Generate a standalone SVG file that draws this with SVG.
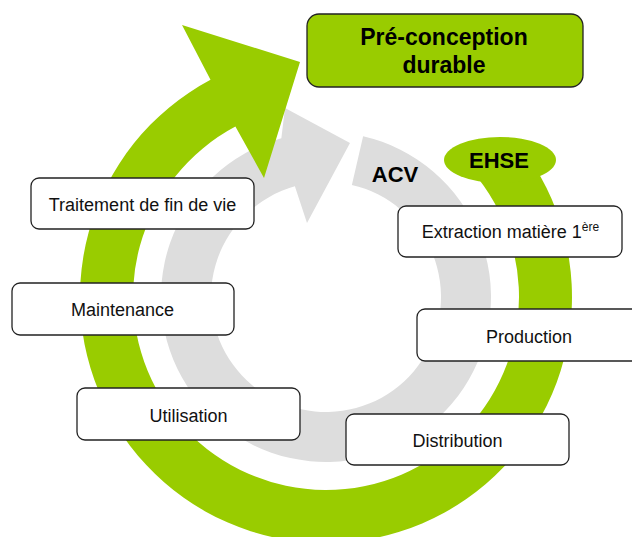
<svg xmlns="http://www.w3.org/2000/svg" width="632" height="537" viewBox="0 0 632 537">
<style>
  .box { fill: #ffffff; stroke: #222222; stroke-width: 1.3; }
  .lbl { font-family: "Liberation Sans", Arial, sans-serif; font-size: 18px; fill: #111111; text-anchor: middle; }
  .big { font-family: "Liberation Sans", Arial, sans-serif; font-weight: bold; fill: #000000; text-anchor: middle; }
  .gray { fill: #DDDDDD; }
  .green { fill: #99CC00; }
</style>
<rect width="632" height="537" fill="#ffffff"/>
<g id="connectors">
  <path id="acv-cycle" class="gray" d="M363.12,136.23 A165,165 0 1 1 281.35,138.15 L285,108 L350,143 L307,223 L294.88,186.29 A115,115 0 1 0 351.87,184.95 Z"/>
  <path id="ehse-cycle" class="green" d="M519.8,145.5 A246,246 0 1 1 210.5,79.8 L182,25 L300,62 L264,178 L235.4,126.6 A193,193 0 1 0 478.1,178.2 Z"/>
</g>
<g id="ehse">
  <ellipse cx="500" cy="160" rx="56" ry="23" class="green"/>
  <text x="499" y="168" class="big" font-size="22">EHSE</text>
</g>
<g id="acv">
  <text x="395" y="182" class="big" font-size="22">ACV</text>
</g>
<g id="preconception">
  <rect x="307" y="14" width="276" height="73" rx="12" fill="#99CC00" stroke="#222222" stroke-width="1.3"/>
  <text x="444" y="44.5" class="big" font-size="23">Pré-conception</text>
  <text x="444" y="72.5" class="big" font-size="23">durable</text>
</g>
<g id="traitement">
  <rect x="31" y="178" width="223" height="51" rx="8" class="box"/>
  <text x="142.5" y="211" class="lbl">Traitement de fin de vie</text>
</g>
<g id="maintenance">
  <rect x="12" y="283" width="222" height="52" rx="8" class="box"/>
  <text x="122.5" y="316" class="lbl">Maintenance</text>
</g>
<g id="utilisation">
  <rect x="77" y="388" width="223" height="52" rx="8" class="box"/>
  <text x="188.5" y="422" class="lbl">Utilisation</text>
</g>
<g id="extraction">
  <rect x="398" y="206" width="224" height="51" rx="8" class="box"/>
  <text x="510.5" y="238" class="lbl">Extraction matière 1<tspan font-size="12" dy="-7">ère</tspan></text>
</g>
<g id="production">
  <rect x="417" y="309" width="224" height="52" rx="8" class="box"/>
  <text x="529" y="343" class="lbl">Production</text>
</g>
<g id="distribution">
  <rect x="346" y="414" width="223" height="51" rx="8" class="box"/>
  <text x="457.5" y="447" class="lbl">Distribution</text>
</g>
</svg>
